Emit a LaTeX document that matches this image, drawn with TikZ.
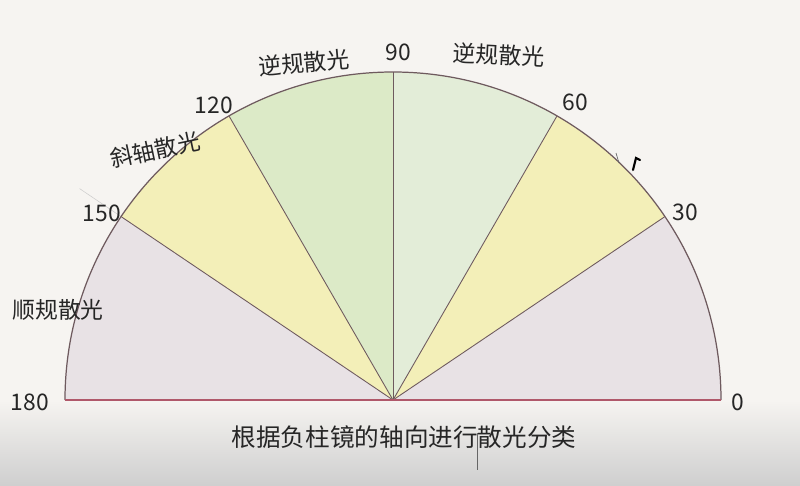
\documentclass[tikz,border=0pt]{standalone}
\usepackage{fontspec}
\usepackage{xcolor}
\newfontfamily\cjk{Noto Sans CJK SC}
\definecolor{paper}{HTML}{F6F4F1}
\definecolor{shadow}{HTML}{CFCFCF}
\definecolor{mauve}{HTML}{E8E2E5}
\definecolor{lemon}{HTML}{F3EFB8}
\definecolor{leafa}{HTML}{DCEAC7}
\definecolor{leafb}{HTML}{E3EDD8}
\definecolor{arcline}{HTML}{6E5A5E}
\definecolor{rimred}{HTML}{B0586A}

\begin{document}
\begin{tikzpicture}[x=0.2mm,y=0.2mm]
    \tikzstyle{every node}=[font=\cjk]
    \tikzstyle{lbl}=[font=\cjk\fontsize{13}{13}\selectfont, text=black!85]
    \tikzstyle{num}=[font=\cjk\fontsize{13}{13}\selectfont, text=black!85]
    \tikzstyle{spoke}=[draw=arcline, line width=0.5pt]
    \fill[paper] (0,0) rectangle (800,485);
    \shade[top color=paper, bottom color=shadow] (0,0) rectangle (800,85); % desk shadow
    \useasboundingbox (0,0) rectangle (800,485);
    \coordinate (O) at (393,85);
    \path (O) ++(0:328) coordinate (p0);
    \path (O) ++(34:328) coordinate (p30);
    \path (O) ++(60:328) coordinate (p60);
    \path (O) ++(90:328) coordinate (p90);
    \path (O) ++(120:328) coordinate (p120);
    \path (O) ++(146:328) coordinate (p150);
    \path (O) ++(180:328) coordinate (p180);
    % coloured sectors
    \fill[mauve] (O) -- (p0) arc[start angle=0, end angle=34, radius=328] -- cycle;
    \fill[lemon] (O) -- (p30) arc[start angle=34, end angle=60, radius=328] -- cycle;
    \fill[leafb] (O) -- (p60) arc[start angle=60, end angle=90, radius=328] -- cycle;
    \fill[leafa] (O) -- (p90) arc[start angle=90, end angle=120, radius=328] -- cycle;
    \fill[lemon] (O) -- (p120) arc[start angle=120, end angle=146, radius=328] -- cycle;
    \fill[mauve] (O) -- (p150) arc[start angle=146, end angle=180, radius=328] -- cycle;
    % spokes
    \draw[spoke] (O) -- (p30);
    \draw[spoke] (O) -- (p60);
    \draw[spoke] (O) -- (p90);
    \draw[spoke] (O) -- (p120);
    \draw[spoke] (O) -- (p150);
    \draw[black!20, line width=0.3pt] (p150) -- ++(146:50); % faint pencil
    \draw[arcline, line width=0.7pt] (p0) arc[start angle=0, end angle=180, radius=328];
    \draw[rimred, line width=0.8pt] (p180) -- (p0);
    % angle numbers
    \node[num] (n180) at (30,83) {180};
    \node[num] (n150) at (102,272) {150};
    \node[num] (n120) at (214,380) {120};
    \node[num] (n90) at (398,433) {90};
    \node[num] (n60) at (575,383) {60};
    \node[num] (n30) at (685,273) {30};
    \node[num] (n0) at (738,83) {0};
    % stray marks
    \draw[black!60, line width=0.4pt] (616,332) -- (619,322);
    \draw[black, line width=1.2pt, line cap=round] (633,315) -- (636,327) -- (640,325);
    % classes
    \node[lbl] (with) at (58,175) {顺规散光};
    \node[lbl, rotate=12] (oblique) at (155,335) {斜轴散光};
    \node[lbl, rotate=5] (againstL) at (304,422) {逆规散光};
    \node[lbl, rotate=-3] (againstR) at (499,430) {逆规散光};
    \node[font=\cjk\fontsize{14}{14}\selectfont, text=black!85] (title) at (404,48) {根据负柱镜的轴向进行散光分类};
    \draw[black!60, line width=0.4pt] (477,52) -- (477,15);
\end{tikzpicture}
\end{document}
